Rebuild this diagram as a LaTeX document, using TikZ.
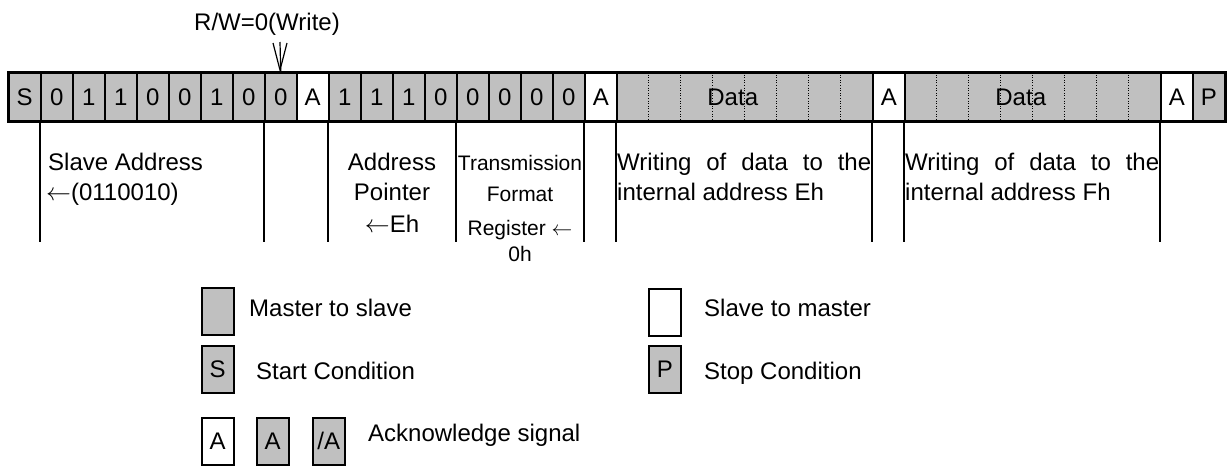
\documentclass[tikz,border=0pt]{standalone}
\usepackage{fontspec}
\setmainfont{Liberation Sans}
\usetikzlibrary{calc}
\definecolor{cellgray}{HTML}{C0C0C0}
\newcommand\bigfs{\fontsize{24}{29}\selectfont}
\newcommand\smfs{\fontsize{21}{25}\selectfont}
\begin{document}
\begin{tikzpicture}[x=1pt,y=-1pt,
 cell/.style={draw, line width=1.5pt, minimum width=32pt, minimum height=48pt, inner sep=0pt, anchor=north west, text height=17.2pt, text depth=0pt, font=\bigfs},
 gcell/.style={cell, fill=cellgray},
 wcell/.style={cell, fill=white},
 datacell/.style={gcell, minimum width=256pt},
 legbox/.style={cell, minimum height=47pt},
 txt/.style={anchor=base west, inner sep=0pt, font=\bigfs},
 ctxt/.style={anchor=base, inner sep=0pt, font=\bigfs},
 stxt/.style={anchor=base, inner sep=0pt, font=\smfs},
 sep/.style={line width=1.5pt},
 dots/.style={line width=0.8pt, dash pattern=on 1pt off 1.6pt},
 arr/.style={line width=1.2pt},
]
\useasboundingbox (0,0) rectangle (1229,466);

% frame cells
\node[gcell] (s) at (8,72) {S};
\foreach \t [count=\i from 0] in {0,1,1,0,0,1,0,0}
  \node[gcell] (a\i) at ({40+32*\i},72) {\t};
\node[wcell] (ack1) at (296,72) {A};
\foreach \t [count=\i from 0] in {1,1,1,0,0,0,0,0}
  \node[gcell] (p\i) at ({328+32*\i},72) {\t};
\node[wcell] (ack2) at (584,72) {A};
\node[datacell] (d1) at (616,72) {};
\node[wcell] (ack3) at (872,72) {A};
\node[datacell] (d2) at (904,72) {};
\node[wcell] (ack4) at (1160,72) {A};
\node[gcell] (stop) at (1192,72) {P};

\foreach \k in {1,...,7} {
  \draw[dots] ($(d1.north west)+(32*\k,0)$) -- ($(d1.south west)+(32*\k,0)$);
  \draw[dots] ($(d2.north west)+(32*\k,0)$) -- ($(d2.south west)+(32*\k,0)$);
}
\node[ctxt] (d1t) at ($(d1.center)+(-12,8.6)$) {Data};
\node[ctxt] (d2t) at ($(d2.center)+(-12,8.6)$) {Data};
\draw[line width=2pt] (s.north west) rectangle (stop.south east);

% field separators below
\foreach \n in {a0,a7,p0,p4,ack2,d1,ack3,d2,ack4}
  \draw[sep] (\n.south west) -- ++(0,120);

% R/W marker
\node[ctxt] (rw) at (267,30) {R/W=0(Write)};
\coordinate (tip) at (280,70);
\coordinate (st) at (280,42);
\coordinate (sl) at (273,43);
\coordinate (sr) at (287,43);
\draw[arr] (st) -- (a7.north);
\draw[arr] (sl) -- (tip) -- (sr);

% field descriptions
\node[txt] (sa1) at (48,170) {Slave Address};
\node[txt] (sa2) at (46,200) {$\leftarrow$(0110010)};
\node[ctxt] (ap1) at (392,170) {Address};
\node[ctxt] (ap2) at (392,200) {Pointer};
\node[ctxt] (ap3) at (392,232) {$\leftarrow$Eh};
\node[stxt] (tf1) at (520,170) {Transmission};
\node[stxt] (tf2) at (520,201) {Format};
\node[stxt] (tf3) at (520,235) {Register $\leftarrow$};
\node[stxt] (tf4) at (520,261) {0h};
\node[txt] (w1a) at (617,170) {\makebox[254pt][s]{Writing of data to the}};
\node[txt] (w1b) at (617,200) {internal address Eh};
\node[txt] (w2a) at (905,170) {\makebox[254pt][s]{Writing of data to the}};
\node[txt] (w2b) at (905,200) {internal address Fh};

% legend
\node[legbox, fill=cellgray] (lm) at (201,287) {};
\node[txt] (lmt) at (249,316) {Master to slave};
\node[legbox, fill=cellgray] (ls) at (201,345) {S};
\node[txt] (lst) at (256,379) {Start Condition};
\node[legbox, fill=white] (la1) at (201,417) {A};
\node[legbox, fill=cellgray] (la2) at (256,417) {A};
\node[legbox, fill=cellgray] (la3) at (312,417) {/A};
\node[txt] (lat) at (368,441) {Acknowledge signal};
\node[legbox, fill=white] (lw) at (648,288) {};
\node[txt] (lwt) at (704,316) {Slave to master};
\node[legbox, fill=cellgray] (lp) at (648,345) {P};
\node[txt] (lpt) at (704,379) {Stop Condition};
\end{tikzpicture}
\end{document}
